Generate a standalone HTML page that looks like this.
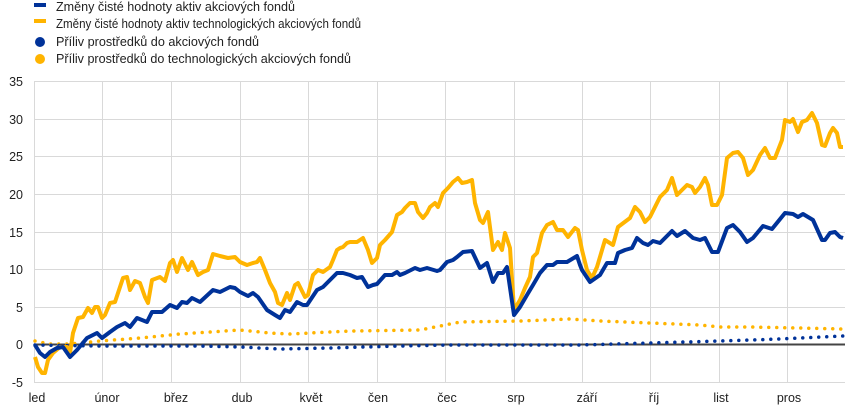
<!DOCTYPE html>
<html><head><meta charset="utf-8"><style>
body{margin:0;background:#fff;}
svg{display:block;font-family:"Liberation Sans",Arial,sans-serif;}
</style></head><body>
<svg width="868" height="410" viewBox="0 0 868 410" xmlns="http://www.w3.org/2000/svg">
<!-- legend -->
<rect x="34" y="3" width="12" height="4" fill="#003299"/>
<rect x="34" y="19" width="12" height="4" fill="#FFB400"/>
<circle cx="40" cy="42" r="5" fill="#003299"/>
<circle cx="40" cy="59" r="5" fill="#FFB400"/>
<g font-size="12.5" fill="#222">
<text x="56" y="11" textLength="239" lengthAdjust="spacingAndGlyphs">Změny čisté hodnoty aktiv akciových fondů</text>
<text x="56" y="28" textLength="305" lengthAdjust="spacingAndGlyphs">Změny čisté hodnoty aktiv technologických akciových fondů</text>
<text x="56" y="46" textLength="203" lengthAdjust="spacingAndGlyphs">Příliv prostředků do akciových fondů</text>
<text x="56" y="63" textLength="295" lengthAdjust="spacingAndGlyphs">Příliv prostředků do technologických akciových fondů</text>
</g>
<!-- grid -->
<g stroke="#d9d9d9" stroke-width="1">
<line x1="34" x2="845" y1="81.5" y2="81.5"/><line x1="34" x2="845" y1="119.5" y2="119.5"/>
<line x1="34" x2="845" y1="156.5" y2="156.5"/><line x1="34" x2="845" y1="194.5" y2="194.5"/>
<line x1="34" x2="845" y1="232.5" y2="232.5"/><line x1="34" x2="845" y1="269.5" y2="269.5"/>
<line x1="34" x2="845" y1="307.5" y2="307.5"/><line x1="34" x2="845" y1="382.5" y2="382.5"/>
<line x1="34.5" x2="34.5" y1="81" y2="382"/><line x1="102.5" x2="102.5" y1="81" y2="382"/>
<line x1="171.5" x2="171.5" y1="81" y2="382"/><line x1="240.5" x2="240.5" y1="81" y2="382"/>
<line x1="308.5" x2="308.5" y1="81" y2="382"/><line x1="377.5" x2="377.5" y1="81" y2="382"/>
<line x1="445.5" x2="445.5" y1="81" y2="382"/><line x1="514.5" x2="514.5" y1="81" y2="382"/>
<line x1="582.5" x2="582.5" y1="81" y2="382"/><line x1="650.5" x2="650.5" y1="81" y2="382"/>
<line x1="719.5" x2="719.5" y1="81" y2="382"/><line x1="787.5" x2="787.5" y1="81" y2="382"/>
</g>
<g font-size="12.5" fill="#222" text-anchor="end">
<text x="23" y="86">35</text><text x="23" y="124">30</text><text x="23" y="161">25</text>
<text x="23" y="199">20</text><text x="23" y="237">15</text><text x="23" y="274">10</text>
<text x="23" y="312">5</text><text x="23" y="349">0</text><text x="23" y="387">-5</text>
</g>
<g font-size="12.5" fill="#222" text-anchor="middle">
<text x="37" y="402">led</text><text x="107" y="402">únor</text><text x="176" y="402">břez</text>
<text x="242" y="402">dub</text><text x="311" y="402">květ</text><text x="378" y="402">čen</text>
<text x="447" y="402">čec</text><text x="516" y="402">srp</text><text x="587" y="402">září</text>
<text x="654" y="402">říj</text><text x="721" y="402">list</text><text x="789" y="402">pros</text>
</g>
<line x1="34" x2="845" y1="344.5" y2="344.5" stroke="#444" stroke-width="2"/>
<!-- dotted flows -->
<polyline fill="none" stroke="#FFB400" stroke-width="3.5" stroke-linecap="round" stroke-dasharray="0 8"
points="35,341 50,344 70,344 100,341 140,338 180,334 240,330 270,333 290,334 350,331 420,330 440,326 460,322 520,321 570,319 600,321 650,323 700,325 720,327 750,327 800,328 843,329"/>
<polyline fill="none" stroke="#003299" stroke-width="3.5" stroke-linecap="round" stroke-dasharray="0 8"
points="35,345 100,346 200,346 240,347 280,349 330,348 400,346 450,345 540,345 580,345 650,343 720,341 780,339 843,336"/>
<!-- yellow NAV -->
<polyline fill="none" stroke="#FFB400" stroke-width="4" stroke-linejoin="round"
points="35,357 38,367 42,373 45,373 48,360 53,353 60,347 67,347 70,353 73,333 78,318 83,317 88,308 92,313 95,307 98,307 102,318 105,315 110,303 115,302 118,293 123,278 127,277 130,290 135,281 140,283 145,297 148,303 152,280 160,277 165,281 170,263 173,260 177,272 182,258 188,270 192,262 198,275 203,272 208,270 213,254 220,256 228,258 235,257 240,262 247,265 253,263 257,262 260,258 265,270 270,283 275,292 278,303 282,305 287,293 290,300 295,285 298,283 305,297 308,295 313,275 318,270 323,272 330,267 333,260 337,250 340,248 343,247 347,243 350,242 357,242 363,238 368,250 372,263 377,258 380,245 385,240 392,232 397,215 402,212 405,208 410,203 415,203 418,212 423,218 427,213 430,207 435,203 438,207 443,193 448,188 453,182 458,178 462,183 467,182 472,180 475,203 480,220 483,223 488,212 493,250 498,242 502,250 505,233 510,248 514,310 520,300 525,288 530,277 533,257 537,253 542,233 547,225 553,222 557,230 563,230 568,237 575,228 578,230 582,250 587,270 592,278 597,267 605,240 613,245 618,227 630,218 635,207 640,212 645,222 650,217 655,207 660,197 667,190 672,178 677,195 687,185 692,187 695,193 700,187 705,178 708,185 712,205 717,205 722,195 727,158 733,153 738,152 743,158 748,175 753,170 760,155 765,148 770,158 775,158 782,140 785,120 790,122 793,119 798,132 802,122 807,120 812,113 817,123 822,145 825,146 830,133 833,128 837,133 840,147 843,147"/>
<!-- blue NAV -->
<polyline fill="none" stroke="#003299" stroke-width="4" stroke-linejoin="round"
points="35,345 40,353 45,357 50,352 57,348 63,347 70,357 77,350 87,338 97,333 102,338 110,332 117,327 125,323 130,327 137,318 147,322 152,312 162,312 170,305 177,308 182,302 187,303 192,298 200,302 213,290 220,292 230,287 235,288 240,292 248,296 253,293 258,297 267,310 275,315 280,318 285,310 290,312 297,302 303,305 307,305 317,290 323,287 328,282 337,273 343,273 350,275 357,278 362,277 368,287 373,285 377,284 385,275 392,275 397,272 400,275 405,273 415,268 420,270 427,268 437,271 440,270 447,262 453,260 457,257 463,252 472,251 480,268 487,263 493,282 498,273 503,273 507,267 514,315 520,307 527,295 533,285 540,273 547,265 553,265 557,262 567,262 577,256 580,265 582,270 590,282 600,275 607,263 615,263 618,253 625,250 632,248 637,238 643,243 648,245 653,241 660,243 672,231 677,236 685,231 693,238 700,240 705,238 712,252 718,252 727,228 733,225 740,232 747,242 753,238 763,226 772,229 785,213 793,214 798,217 803,214 813,220 822,240 825,240 830,233 835,232 840,237 843,238"/>
</svg>
</body></html>
